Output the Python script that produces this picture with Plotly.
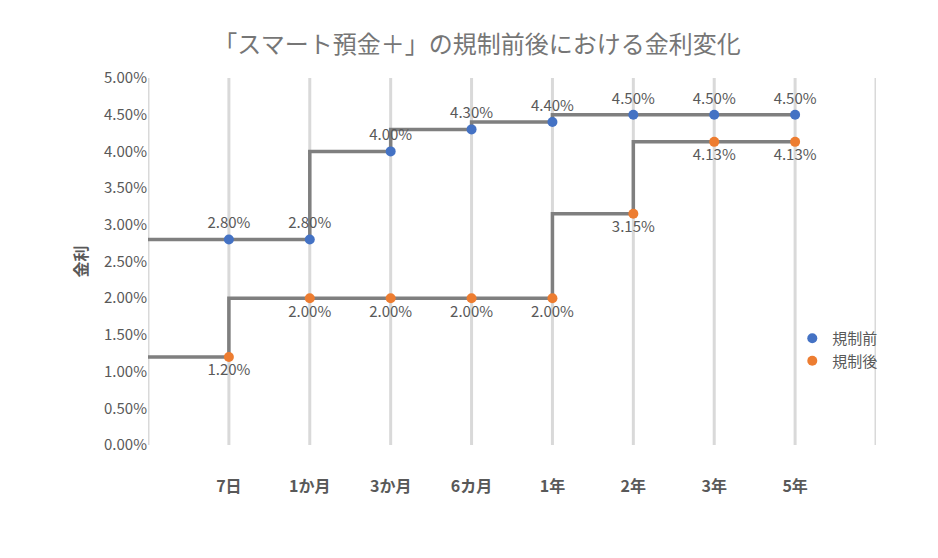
import plotly.graph_objects as go

cats = ["7日", "1か月", "3か月", "6カ月", "1年", "2年", "3年", "5年"]
before = [0.028, 0.028, 0.040, 0.043, 0.044, 0.045, 0.045, 0.045]
after = [0.012, 0.020, 0.020, 0.020, 0.020, 0.0315, 0.0413, 0.0413]
xpos = list(range(1, len(cats) + 1))

fig = go.Figure()
for vals in (before, after):
    fig.add_trace(go.Scatter(x=[0] + xpos, y=[vals[0]] + vals, mode="lines",
                             line=dict(color="#7f7f7f", width=3.5, shape="vh"),
                             showlegend=False, hoverinfo="skip"))
fig.add_trace(go.Scatter(x=xpos, y=before, mode="markers+text", name="規制前",
                         marker=dict(color="#4472c4", size=10),
                         text=[f"{v*100:.2f}%" for v in before], textposition="top center",
                         textfont=dict(color="#595959", size=15)))
fig.add_trace(go.Scatter(x=xpos, y=after, mode="markers+text", name="規制後",
                         marker=dict(color="#ed7d31", size=10),
                         text=[f"{v*100:.2f}%" for v in after], textposition="bottom center",
                         textfont=dict(color="#595959", size=15)))

fig.update_layout(
    width=938, height=558, paper_bgcolor="white", plot_bgcolor="white",
    margin=dict(l=140, r=70, t=70, b=121),
    font=dict(family="Noto Sans CJK JP", color="#595959"),
    title=dict(text="「スマート預金＋」の規制前後における金利変化", x=0.5, y=0.95,
               xanchor="center", font=dict(size=24, color="#767676")),
    legend=dict(x=0.885, y=0.26, xanchor="left", yanchor="middle",
                font=dict(size=15, color="#595959"), bgcolor="rgba(0,0,0,0)",
                tracegroupgap=10),
    xaxis=dict(range=[0, 9], tickvals=xpos, ticktext=cats, showgrid=False,
               zeroline=False, showline=False, ticks="", ticklabelstandoff=30,
               automargin=False,
               tickfont=dict(size=16, color="#595959", weight="bold")),
    yaxis=dict(range=[0, 0.05], dtick=0.005, tickformat=".2%", showgrid=False,
               zeroline=False, automargin=False, tickfont=dict(size=15, color="#595959"),
               title=dict(text="<b>金利</b>", font=dict(size=16, color="#595959"), standoff=12)),
)
for g in range(0, 10):
    fig.add_shape(type="line", x0=g, x1=g, y0=0, y1=0.05, xref="x", yref="y",
                  line=dict(color="#d9d9d9", width=3), layer="below")
fig.write_html("out.html")
